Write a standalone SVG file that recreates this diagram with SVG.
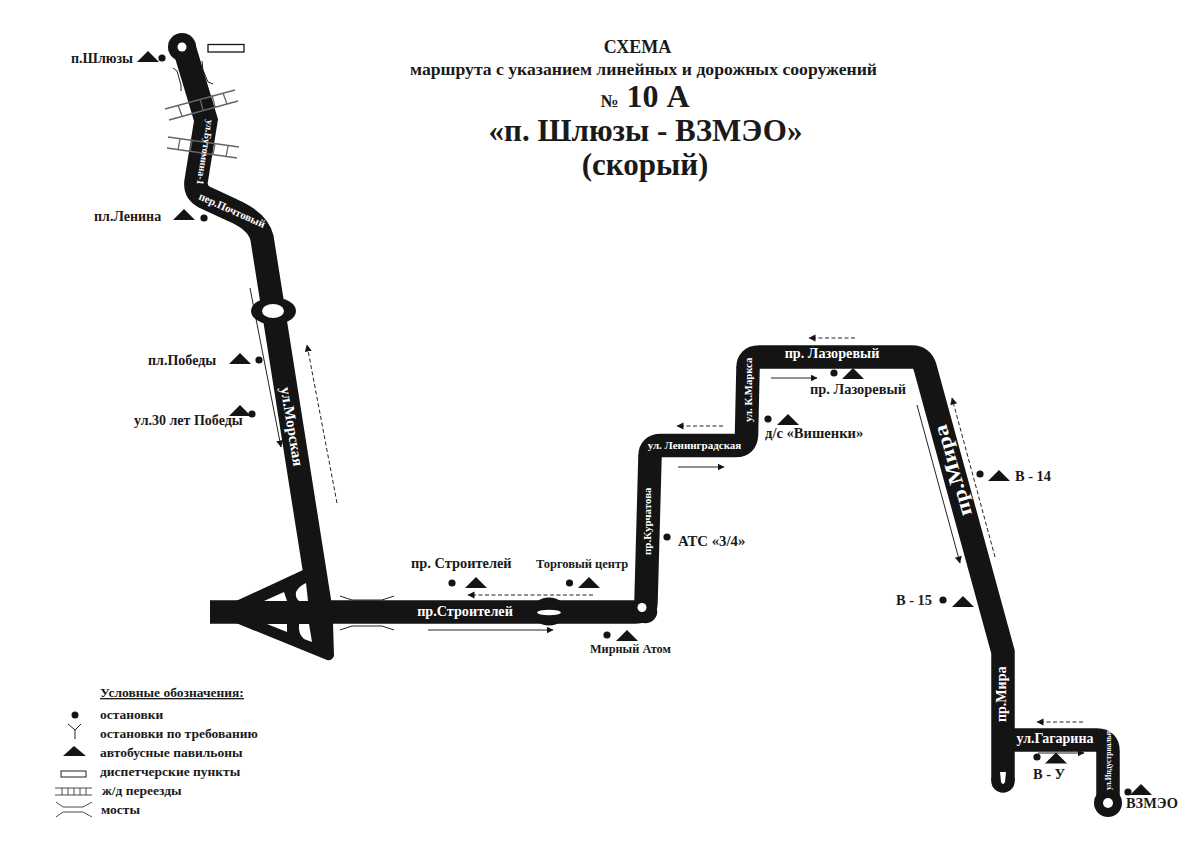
<svg xmlns="http://www.w3.org/2000/svg" width="1200" height="849" viewBox="0 0 1200 849">
<style>
text{font-family:"Liberation Serif","Times New Roman",serif;font-weight:bold;fill:#1a1a1a}
.s{font-size:14px}.m{font-size:14.400px}.l{font-size:13.500px}
.w{fill:#fff}
.road{fill:none;stroke:#141414;stroke-width:23.500;stroke-linejoin:miter}
.rail{fill:none;stroke:#666;stroke-width:1.300}
.br{fill:none;stroke:#222;stroke-width:1}
.ar{fill:none;stroke:#222;stroke-width:1;marker-end:url(#a)}
.da{fill:none;stroke:#222;stroke-width:1;stroke-dasharray:4 2.500;marker-end:url(#a)}
.hole{fill:#fff}
.k{fill:#141414}
</style>
<defs>
<marker id="a" markerUnits="userSpaceOnUse" markerWidth="8" markerHeight="8" refX="6.500" refY="3.500" orient="auto"><path d="M0 0L7 3.500L0 7Z" fill="#141414"/></marker>
<circle id="st" r="3.600" class="k"/>
<path id="pv" d="M-11 5L0 -6L11 5Z" class="k"/>
</defs>
<rect width="1200" height="849" fill="#fff"/>
<g id="connectors">
<path class="road" d="M184 47L206 120L196 182Q195 192 204 197L232 210Q258 221 262 238L321.600 615"/>
<path class="k" d="M236 601L303 570L312 570L333 623L334 656Q332 661 327 660L236 623Z"/>
<path class="road" d="M210 612L636 612Q646 612 646 602L650 456Q650 445.500 661 445.500L736 445.500Q746 445.500 746.500 435L748 368Q748 357 759 357L912 357Q922 357 925 367L1003 652L1003 781"/>
<circle cx="1003" cy="781" r="11.750" class="k"/>
<circle cx="645.500" cy="611.500" r="11.750" class="k"/>
<path class="road" d="M1003 740L1097 740Q1108 740 1108 751L1108 803"/>
<path class="hole" d="M264 601L284 592L287 601Z"/>
<path class="hole" d="M306 583L308 601L299 601Q295 598 296 592Q299 586 306 583Z"/>
<path class="hole" d="M267 624L287 624L287 632Z"/>
<path class="hole" d="M299 624L309 624L312 642L304 639Q298 634 299 624Z"/>
<path class="hole" d="M1000 772L1006 772L1005 782Q1003 786 1001 782Z"/>
<g class="rail">
<path d="M165 109L235 90M169 120L238 101M178 105L182 116M200 99L203 110M212 95L215 107M223 93L227 104"/>
<path d="M168 137L239 147M167 148L237 158M180 139L178 150M192 141L190 152M215 144L213 155M228 146L226 157"/>
</g>
<g class="br">
<path d="M173 68L177 71L181 85L181 91M202 61L203 70L208 82L213 84"/>
<path d="M340 596L352 600L382 600L394 596M340 630L352 626L382 626L394 630"/>
</g>
<path class="ar" d="M250 288L281 447"/>
<path class="da" d="M337 503L307 345"/>
<path class="da" d="M593 595L468 595"/>
<path class="ar" d="M428 630L553 630"/>
<path class="da" d="M723 426L677 426"/>
<path class="ar" d="M678 467L724 467"/>
<path class="da" d="M855 338L809 338"/>
<path class="ar" d="M771 378L817 378"/>
<path class="da" d="M995 557L952 398"/>
<path class="ar" d="M917 405L960 563"/>
<path class="da" d="M1083 722L1037 722"/>
<path class="ar" d="M1038 753L1084 753"/>
</g>
<g id="node-terminal-shlyuzy"><circle cx="182" cy="47" r="14" class="k"/><circle cx="182" cy="47" r="4.500" class="hole"/><rect x="208" y="44.500" width="36" height="7.500" fill="#fff" stroke="#141414" stroke-width="1.300"/></g>
<g id="node-terminal-vzmeo"><circle cx="1108" cy="803" r="14" class="k"/><circle cx="1108" cy="803" r="5" class="hole"/></g>
<g id="node-ring-pobedy"><ellipse cx="273.500" cy="311" rx="22.500" ry="13.500" class="k"/><ellipse cx="273" cy="311" rx="11" ry="7" class="hole"/></g>
<g id="node-ring-stroiteley"><ellipse cx="549" cy="611.500" rx="17" ry="14" class="k"/><ellipse cx="549" cy="612.500" rx="12" ry="2.800" class="hole"/></g>
<circle cx="642" cy="607.500" r="4.500" class="hole"/>
<g id="road-labels">
<text transform="translate(280.500 388) rotate(80.500)" style="fill:#fff;font-size:15px">ул.Морская</text>
<text transform="translate(207 119.500) rotate(99)" style="fill:#fff;font-size:10px">ул.Бутомина-1</text>
<text transform="translate(198 199) rotate(24)" style="fill:#fff;font-size:11px">пер.Почтовый</text>
<text x="465" y="616" text-anchor="middle" style="fill:#fff;font-size:14.200px">пр.Строителей</text>
<text transform="translate(651 555) rotate(-90)" style="fill:#fff;font-size:11px">пр.Курчатова</text>
<text x="694.500" y="449" text-anchor="middle" style="fill:#fff;font-size:11px">ул. Ленинградская</text>
<text transform="translate(752 422) rotate(-90)" style="fill:#fff;font-size:10.700px">ул. К.Маркса</text>
<text x="832" y="358" text-anchor="middle" style="fill:#fff;font-size:14.200px">пр. Лазоревый</text>
<text transform="translate(972 514) rotate(-106)" textLength="94" lengthAdjust="spacingAndGlyphs" style="fill:#fff;font-size:20px">пр.Мира</text>
<text transform="translate(1006 722) rotate(-90)" style="fill:#fff;font-size:14px">пр.Мира</text>
<text x="1055" y="743" text-anchor="middle" style="fill:#fff;font-size:14px">ул.Гагарина</text>
<text transform="translate(1111 790) rotate(-90)" style="fill:#fff;font-size:7.500px">ул.Индустриальная</text>
</g>
<g id="node-title" text-anchor="middle">
<text x="637.500" y="53" style="font-size:18px">СХЕМА</text>
<text x="643.500" y="75" textLength="467" lengthAdjust="spacingAndGlyphs" style="font-size:17.500px">маршрута с указанием линейных и дорожных сооружений</text>
<text x="645" y="107" style="font-size:32px"><tspan style="font-size:18px">№</tspan> 10 А</text>
<text x="645.500" y="141" style="font-size:31px">«п. Шлюзы - ВЗМЭО»</text>
<text x="645" y="175" style="font-size:31px">(скорый)</text>
</g>
<g id="node-stop-shlyuzy"><text x="71" y="63" class="s">п.Шлюзы</text><use href="#pv" x="148" y="57"/><use href="#st" x="162" y="58"/></g>
<g id="node-stop-lenina"><text x="94" y="221" class="s">пл.Ленина</text><use href="#pv" x="184" y="215"/><use href="#st" x="204" y="218"/></g>
<g id="node-stop-pobedy"><text x="148" y="365" class="s">пл.Победы</text><use href="#pv" x="240" y="359"/><use href="#st" x="259" y="360"/></g>
<g id="node-stop-30let"><text x="134" y="425" class="s">ул.30 лет Победы</text><use href="#pv" x="240" y="411"/><use href="#st" x="252" y="414"/></g>
<g id="node-stop-stroiteley"><text x="411" y="568" class="m">пр. Строителей</text><use href="#st" x="452" y="583"/><use href="#pv" x="476" y="583"/></g>
<g id="node-stop-torgovy"><text x="536" y="568" style="font-size:12.500px">Торговый центр</text><use href="#st" x="569.500" y="583"/><use href="#pv" x="589" y="583"/></g>
<g id="node-stop-mirny"><text x="590" y="653" style="font-size:12.300px">Мирный Атом</text><use href="#st" x="607" y="635"/><use href="#pv" x="627" y="636"/></g>
<g id="node-stop-ats"><use href="#st" x="667" y="537"/><text x="678" y="546" style="font-size:14.800px">АТС «3/4»</text></g>
<g id="node-stop-vishenki"><use href="#st" x="768" y="419"/><use href="#pv" x="788" y="420"/><text x="765" y="438" style="font-size:14.600px">д/с «Вишенки»</text></g>
<g id="node-stop-lazorevy"><use href="#st" x="834" y="373"/><use href="#pv" x="853" y="374"/><text x="810" y="394" class="m">пр. Лазоревый</text></g>
<g id="node-stop-v14"><use href="#st" x="980" y="474"/><use href="#pv" x="999" y="476"/><text x="1015" y="481" class="m">В - 14</text></g>
<g id="node-stop-v15"><text x="896" y="605" class="m">В - 15</text><use href="#st" x="943" y="600"/><use href="#pv" x="963" y="602"/></g>
<g id="node-stop-vu"><use href="#st" x="1037" y="757"/><use href="#pv" x="1056" y="758.500"/><text x="1033" y="779" class="m">В - У</text></g>
<g id="node-stop-vzmeo"><use href="#st" x="1128" y="792"/><use href="#pv" x="1141" y="790"/><text x="1126" y="808" class="m">ВЗМЭО</text></g>
<g id="node-legend">
<text x="100" y="697" class="l" text-decoration="underline">Условные обозначения:</text>
<circle cx="75" cy="715" r="3.500" class="k"/><text x="100" y="719" class="l">остановки</text>
<path d="M68 724L75 730L81 724M75 730L75 739" fill="none" stroke="#222"/><text x="100" y="738" class="l">остановки по требованию</text>
<path d="M63 756L74 746L86 756Z" class="k"/><text x="100" y="757" class="l">автобусные павильоны</text>
<rect x="61" y="771" width="25" height="6" fill="#fff" stroke="#222"/><text x="100" y="776" class="l">диспетчерские пункты</text>
<path d="M55 788H92M55 795H92M62 788V795M68 788V795M74 788V795M80 788V795M86 788V795" fill="none" stroke="#222" stroke-width=".8"/><text x="102" y="795" class="l">ж/д переезды</text>
<path d="M56 802L63 807H83L92 802M56 817L63 812H83L92 817" fill="none" stroke="#222" stroke-width=".8"/><text x="101" y="814" class="l">мосты</text>
</g>
</svg>
